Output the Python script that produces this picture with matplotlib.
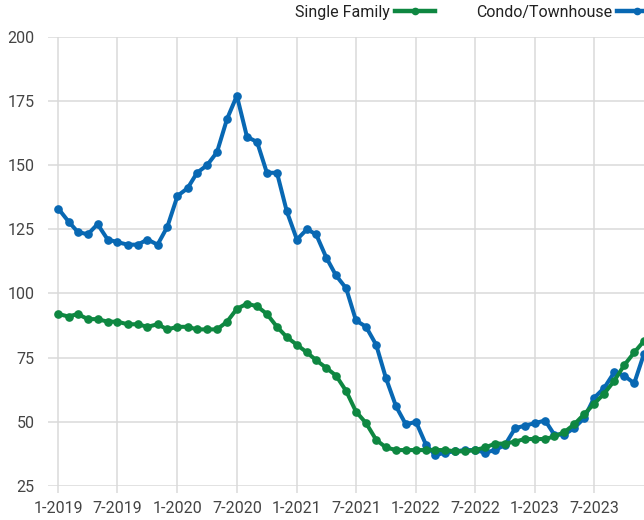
import pandas as pd
import matplotlib.pyplot as plt
import matplotlib.dates as mdates
from matplotlib.ticker import FuncFormatter

# === Data (monthly, Jan 2019 - Dec 2023) ===
months = pd.date_range("2019-01-01", periods=60, freq="MS")

single_family = [
    92, 91, 92, 90, 90, 89, 89, 88, 88, 87, 88, 86,
    87, 87, 86, 86, 86, 89, 94, 96, 95, 92, 87, 83,
    80, 77, 74, 71, 68, 62, 54, 49.5, 43, 40, 39, 39,
    39, 39, 39, 39, 38.5, 38.5, 39, 40, 41.5, 41.5, 42.3, 43.3,
    43.3, 43.3, 44.3, 46, 49, 53, 57, 61, 66, 72, 77, 81.5,
]

condo_townhouse = [
    133, 128, 124, 123, 127, 121, 120, 119, 119, 121, 119, 126,
    138, 141, 147, 150, 155, 168, 177, 161, 159, 147, 147, 132,
    121, 125, 123, 114, 107, 102, 89.5, 87, 80, 67, 56, 49,
    50, 41, 37, 38, 38.5, 39, 39, 38, 39, 41, 47.5, 48.5,
    49.5, 50.5, 45, 45, 47.6, 51.5, 59.3, 63.2, 69.3, 68, 65, 76.5,
]

y_ticks = [25, 50, 75, 100, 125, 150, 175, 200]

GREEN = "#0e8741"
BLUE = "#0868b3"
GRID = "#dadada"
FONT = ["Liberation Sans Narrow", "Roboto", "DejaVu Sans"]

plt.rcParams["font.family"] = FONT

fig = plt.figure(figsize=(6.44, 5.2), dpi=100)
ax = fig.add_axes([0.075, 0.0654, 0.925, 0.864])

line_cfg = dict(linewidth=2.9, marker="o", markersize=5.2, clip_on=True)
h_condo, = ax.plot(months, condo_townhouse, color=BLUE, label="Condo/Townhouse", **line_cfg)
h_sf, = ax.plot(months, single_family, color=GREEN, label="Single Family", **line_cfg)

# axes range: one month of padding on the left, last point on the right edge
ax.set_xlim(pd.Timestamp("2018-12-01"), pd.Timestamp("2023-12-01"))
ax.set_ylim(25, 200)
ax.set_yticks(y_ticks)

ax.xaxis.set_major_locator(mdates.MonthLocator(bymonth=[1, 7]))
ax.xaxis.set_major_formatter(FuncFormatter(
    lambda v, pos: f"{mdates.num2date(v).month}-{mdates.num2date(v).year}"))

ax.grid(True, color=GRID, linewidth=1.1)
ax.set_axisbelow(True)
for s in ax.spines.values():
    s.set_visible(False)

ax.tick_params(axis="x", length=5, width=1.1, color=GRID, labelsize=11.5,
               labelcolor="#444444", pad=6)
ax.tick_params(axis="y", length=0, labelsize=11.5, labelcolor="#444444", pad=10)

# legend sits above the plot, text before the line sample, cut by the right edge
leg = fig.legend(handles=[h_sf, h_condo], loc="center right",
                 bbox_to_anchor=(1.02, 0.976), ncol=2, frameon=False,
                 markerfirst=False, handlelength=2.5, columnspacing=2.6,
                 handletextpad=0.3, borderaxespad=0, borderpad=0,
                 fontsize=11.5)
for t in leg.get_texts():
    t.set_color("#222222")
for lh in leg.legend_handles:
    lh.set_markersize(4.5)
    lh.set_linewidth(3.2)

fig.savefig("out.png", dpi=100)
